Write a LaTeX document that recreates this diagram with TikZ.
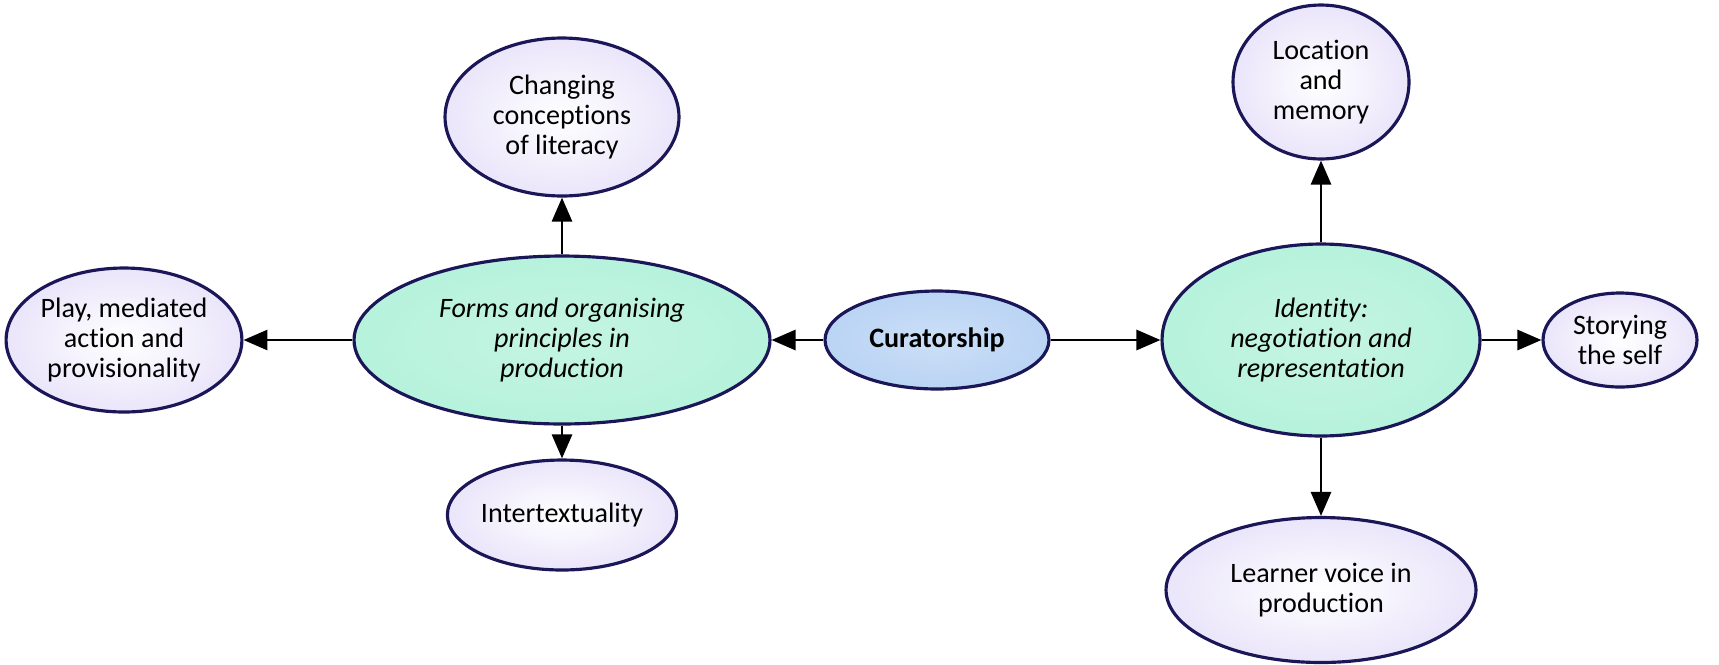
\documentclass[tikz,border=0pt]{standalone}
\usepackage{fontspec}
\setmainfont{Carlito}[Ligatures=NoCommon]
\usetikzlibrary{shapes.geometric,arrows.meta}
\definecolor{rimblue}{RGB}{26,22,88}
\definecolor{lavfill}{RGB}{234,229,250}
\definecolor{mintfill}{RGB}{182,242,220}
\definecolor{skyfill}{RGB}{186,212,244}
\tikzset{
  bubble/.style={ellipse,draw=rimblue,line width=1.8pt,inner sep=0pt,align=center,
    font=\fontsize{16}{17}\selectfont,inner color=white,outer color=lavfill},
  hub/.style={bubble,inner color=mintfill!80,outer color=mintfill,font=\fontsize{16}{17}\selectfont\itshape},
  core/.style={bubble,inner color=skyfill!75,outer color=skyfill,font=\fontsize{16}{17}\selectfont\bfseries},
  link/.style={line width=1.6pt,-{Triangle[length=4.8mm,width=4mm]}}
}
\begin{document}
\begin{tikzpicture}[x=0.02cm,y=-0.02cm]
\useasboundingbox (0,0) rectangle (1719,664);
% centre
\node [core,minimum width=4.48cm,minimum height=1.96cm] (cur) at (937,340) {Curatorship};
% left side
\node [hub,minimum width=8.32cm,minimum height=3.36cm] (forms) at (562,340) {Forms and organising\\principles in\\production};
\node [bubble,minimum width=4.68cm,minimum height=3.16cm] (change) at (562,117) {Changing\\conceptions\\of literacy};
\node [bubble,minimum width=4.6cm,minimum height=2.88cm] (play) at (124,340) {Play, mediated\\action and\\provisionality};
\node [bubble,minimum width=4.4cm,minimum height=2.2cm] (inter) at (562,515) {Intertextuality};
% right side
\node [hub,minimum width=6.36cm,minimum height=3.84cm] (ident) at (1321,340) {Identity:\\negotiation and\\representation};
\node [bubble,minimum width=3.52cm,minimum height=3.08cm] (loc) at (1321,82) {Location\\and\\memory};
\node [bubble,minimum width=3.08cm,minimum height=1.88cm] (story) at (1620,340) {Storying\\the self};
\node [bubble,minimum width=6.2cm,minimum height=2.9cm] (learn) at (1321,590) {Learner voice in\\production};
% connectors
\draw [link] (cur) -- (forms);
\draw [link] (cur) -- (ident);
\draw [link] (forms) -- (change);
\draw [link] (forms) -- (play);
\draw [link] (forms) -- (inter);
\draw [link] (ident) -- (loc);
\draw [link] (ident) -- (story);
\draw [link] (ident) -- (learn);
\end{tikzpicture}
\end{document}
